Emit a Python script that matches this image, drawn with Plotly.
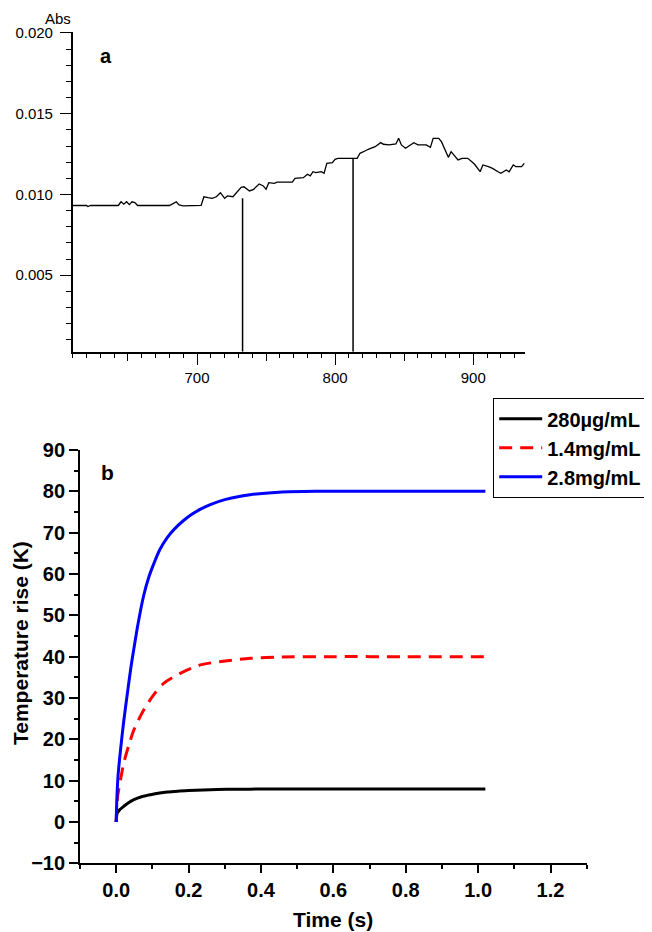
import plotly.graph_objects as go

# ---------------- Panel a: absorbance spectrum ----------------
wavelength_nm = [610, 620, 621, 623, 643, 645, 647, 649, 651, 653, 655, 657, 674, 680, 683, 685, 687, 690,
                 703, 705, 708, 711, 714, 717, 720, 722, 726, 728, 732, 734, 738, 741, 745, 748, 750, 752,
                 756, 758, 769, 771, 777, 780, 782, 784, 786, 790, 792, 794, 798, 800, 802, 816, 818, 822,
                 824, 829, 833, 835, 839, 844, 846, 848, 851, 857, 860, 866, 869, 871, 875, 877, 880, 882,
                 884, 887, 889, 892, 896, 899, 901, 905, 907, 911, 914, 918, 920, 924, 926, 929, 931, 935, 937]
absorbance = [0.00932, 0.00932, 0.00925, 0.00932, 0.00932, 0.00955, 0.00940, 0.00955, 0.00937, 0.00955, 0.00950,
              0.00932, 0.00932, 0.00932, 0.00945, 0.00955, 0.00935, 0.00930,
              0.00932, 0.00986, 0.00980, 0.00976, 0.00986, 0.01011, 0.00976, 0.00991, 0.00986, 0.01007,
              0.01045, 0.01048, 0.01022, 0.01032, 0.01065, 0.01053, 0.01032, 0.01073,
              0.01069, 0.01076, 0.01076, 0.01100, 0.01104, 0.01125, 0.01115, 0.01141, 0.01135, 0.01141,
              0.01131, 0.01193, 0.01197, 0.01218, 0.01224, 0.01224, 0.01255, 0.01271,
              0.01280, 0.01296, 0.01321, 0.01311, 0.01307, 0.01313, 0.01348, 0.01307, 0.01286, 0.01321,
              0.01307, 0.01307, 0.01292, 0.01348, 0.01348, 0.01327, 0.01265, 0.01230,
              0.01265, 0.01230, 0.01214, 0.01224, 0.01224, 0.01203, 0.01187, 0.01141, 0.01183, 0.01172,
              0.01162, 0.01141, 0.01131, 0.01152, 0.01141, 0.01183, 0.01172, 0.01172, 0.01193]
marker_nm = [733, 813]
marker_abs = [0.00976, 0.01224]
abs_range = [0.000266, 0.02008]
abs_xtick_major = [650, 700, 750, 800, 850, 900]
abs_xtick_labels = [700, 800, 900]

# ---------------- Panel b: temperature rise ----------------
series_names = ["280\u00b5g/mL", "1.4mg/mL", "2.8mg/mL"]
t_black = [0, 0.003, 0.01, 0.021, 0.035, 0.049, 0.07, 0.095, 0.12, 0.141, 0.17, 0.2, 0.24, 0.279, 0.33, 0.4, 0.5, 0.7, 1.02]
T_black = [0, 2.2, 3.0, 3.8, 4.7, 5.4, 6.1, 6.6, 7.0, 7.25, 7.45, 7.6, 7.75, 7.85, 7.92, 7.96, 8.0, 8.0, 8.0]
t_red = [0, 0.004, 0.012, 0.021, 0.035, 0.049, 0.076, 0.104, 0.132, 0.178, 0.233, 0.307, 0.371, 0.445, 0.6, 0.8, 1.02]
T_red = [0, 6.2, 10.2, 14.3, 18.6, 22.3, 27.1, 30.8, 33.6, 36.0, 38.0, 39.0, 39.6, 39.9, 40.0, 40.0, 40.0]
t_blue = [0, 0.002, 0.005, 0.012, 0.021, 0.03, 0.04, 0.049, 0.06, 0.076, 0.09, 0.104, 0.12, 0.141, 0.16,
          0.187, 0.21, 0.233, 0.26, 0.3, 0.37, 0.45, 0.55, 0.7, 1.02]
T_blue = [0, 6.0, 11.0, 17.5, 24.5, 30.5, 37.0, 42.0, 47.8, 54.8, 59.2, 62.5, 65.8, 68.8, 70.8,
          73.0, 74.5, 75.7, 76.8, 78.0, 79.2, 79.8, 80.0, 80.0, 80.0]

# the page puts the figure 8px in from the top-left corner of the window
OFF = 8
WIN_W, WIN_H = 652, 932
W, H = WIN_W - OFF, WIN_H - OFF
FONT_A = "Liberation Sans, Arial, sans-serif"


def px(x):
    return (x - OFF) / W


def py(y):
    return 1 - (y - OFF) / H


fig = go.Figure()

# panel a traces
fig.add_trace(go.Scatter(x=wavelength_nm, y=absorbance, mode="lines",
                         line=dict(color="black", width=1.3), showlegend=False,
                         xaxis="x", yaxis="y", hoverinfo="skip"))
mx, my = [], []
for xv, yv in zip(marker_nm, marker_abs):
    mx += [xv, xv, None]
    my += [abs_range[0], yv, None]
fig.add_trace(go.Scatter(x=mx, y=my, mode="lines", line=dict(color="black", width=1.5),
                         showlegend=False, xaxis="x", yaxis="y", hoverinfo="skip"))
# anchor trace for the labelled overlay axis of panel a
fig.add_trace(go.Scatter(x=abs_xtick_labels, y=[marker_abs[0]] * len(abs_xtick_labels), mode="markers",
                         marker=dict(opacity=0), showlegend=False, xaxis="x3", yaxis="y",
                         hoverinfo="skip"))

# panel b traces
fig.add_trace(go.Scatter(x=t_black, y=T_black, mode="lines", name=series_names[0],
                         line=dict(color="black", width=3, shape="spline", smoothing=0.8),
                         xaxis="x2", yaxis="y2"))
fig.add_trace(go.Scatter(x=t_red, y=T_red, mode="lines", name=series_names[1],
                         line=dict(color="#ff0000", width=3, dash="13px,8px", shape="spline", smoothing=0.8),
                         xaxis="x2", yaxis="y2"))
fig.add_trace(go.Scatter(x=t_blue, y=T_blue, mode="lines", name=series_names[2],
                         line=dict(color="#0000ff", width=3, shape="spline", smoothing=0.8),
                         xaxis="x2", yaxis="y2"))

top_dom_x = [px(72.7), px(525)]
top_dom_y = [py(351.7), py(31.7)]
bot_dom_x = [px(80), px(586.7)]
bot_dom_y = [py(863.3), py(450)]

fa = dict(family=FONT_A, size=15, color="black")
fb = dict(family=FONT_A, size=20, color="black", weight="bold")

fig.update_layout(
    template="none",
    width=W, height=H,
    margin=dict(l=0, r=0, t=0, b=0, autoexpand=False),
    paper_bgcolor="white", plot_bgcolor="white",
    xaxis=dict(domain=top_dom_x, anchor="y", range=[610, 937.5], automargin=False,
               showline=True, linecolor="black", linewidth=1.5, mirror=False,
               showgrid=False, zeroline=False, ticks="outside", ticklen=8, tickwidth=1.3,
               tickcolor="black", tickvals=abs_xtick_major, showticklabels=False,
               minor=dict(ticks="outside", ticklen=5, tickwidth=1.3, tickcolor="black",
                          tick0=610, dtick=10, showgrid=False)),
    xaxis3=dict(domain=top_dom_x, anchor="y", overlaying="x", range=[610, 937.5], automargin=False,
                showline=False, showgrid=False, zeroline=False, ticks="outside", ticklen=12,
                tickwidth=1.3, tickcolor="black", tickvals=abs_xtick_labels,
                ticktext=[str(v) for v in abs_xtick_labels], tickfont=fa, side="bottom"),
    yaxis=dict(domain=top_dom_y, anchor="x", range=abs_range, automargin=False,
               showline=True, linecolor="black", linewidth=1.5,
               showgrid=False, zeroline=False, ticks="outside", ticklen=11, tickwidth=1.3,
               tickcolor="black", tick0=0, dtick=0.005, tickformat=".3f", tickfont=fa,
               ticklabelstandoff=4,
               minor=dict(ticks="outside", ticklen=5, tickwidth=1.3, tickcolor="black",
                          tick0=0, dtick=0.001, showgrid=False)),
    xaxis2=dict(domain=bot_dom_x, anchor="y2", range=[-0.1, 1.3], automargin=False,
                showline=True, linecolor="black", linewidth=1.8,
                showgrid=False, zeroline=False, ticks="outside", ticklen=8, tickwidth=1.5,
                tickcolor="black", tick0=0, dtick=0.2, tickformat=".1f", tickfont=fb,
                minor=dict(ticks="outside", ticklen=4, tickwidth=1.5, tickcolor="black",
                           tick0=0.1, dtick=0.2, showgrid=False)),
    yaxis2=dict(domain=bot_dom_y, anchor="x2", range=[-10, 90], automargin=False,
                showline=True, linecolor="black", linewidth=1.8,
                showgrid=False, zeroline=False, ticks="outside", ticklen=9, tickwidth=1.5,
                tickcolor="black", tick0=0, dtick=10, tickfont=fb,
                minor=dict(ticks="outside", ticklen=4, tickwidth=1.5, tickcolor="black",
                           tick0=5, dtick=10, showgrid=False)),
    legend=dict(x=px(493), y=py(398), xanchor="left", yanchor="top",
                bordercolor="black", borderwidth=1.2, bgcolor="white",
                font=dict(family=FONT_A, size=20, color="black", weight="bold"),
                tracegroupgap=0, itemwidth=43),
    annotations=[
        dict(text="Abs", x=px(73), y=py(8), xref="paper", yref="paper",
             xanchor="right", yanchor="top", showarrow=False, font=fa),
        dict(text="a", x=px(106), y=py(56), xref="paper", yref="paper",
             xanchor="center", yanchor="middle", showarrow=False,
             font=dict(family=FONT_A, size=20, color="black", weight="bold")),
        dict(text="b", x=px(107), y=py(472), xref="paper", yref="paper",
             xanchor="center", yanchor="middle", showarrow=False,
             font=dict(family=FONT_A, size=21, color="black", weight="bold")),
        dict(text="Temperature rise (K)", x=px(20), y=py(643), xref="paper", yref="paper",
             xanchor="center", yanchor="middle", textangle=-90, showarrow=False,
             font=dict(family=FONT_A, size=21, color="black", weight="bold")),
        dict(text="Time (s)", x=px(333), y=py(919), xref="paper", yref="paper",
             xanchor="center", yanchor="middle", showarrow=False,
             font=dict(family=FONT_A, size=21, color="black", weight="bold")),
    ],
)

fig.write_html("out.html")
